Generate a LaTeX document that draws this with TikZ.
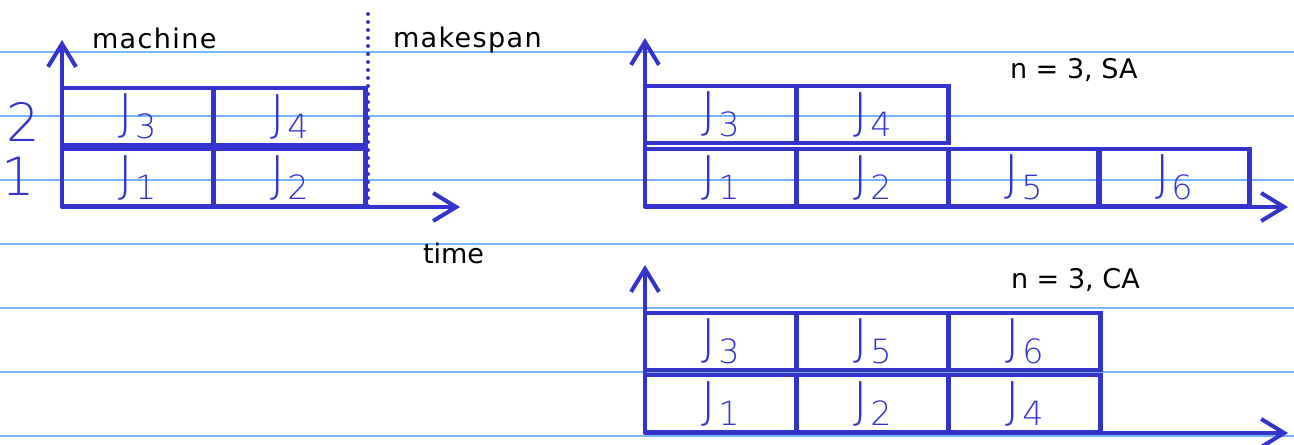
\documentclass[tikz,border=0pt]{standalone}
\usepackage{fontspec}
\setmainfont{DejaVu Sans}
\newfontfamily\handfont{DejaVu Sans ExtraLight}
\newfontfamily\widefont[LetterSpace=5]{DejaVu Sans}
\usetikzlibrary{arrows.meta}

\definecolor{ink}{RGB}{52,52,204}
\definecolor{ruling}{RGB}{120,180,255}

% handwritten job label: big J, small lowered index
\newcommand{\jlabel}[1]{{\fontsize{28}{28}\selectfont J}\kern1pt\raisebox{-5pt}{\fontsize{19}{19}\selectfont #1}}

\begin{document}
\begin{tikzpicture}[x=0.02cm, y=-0.02cm]
\tikzstyle{every node} = [inner sep=0pt, outer sep=0pt]
\tikzstyle{jobbox} = [draw=ink, line width=0.09cm, minimum width=3.03cm, minimum height=1.14cm, anchor=south west, text=ink, font=\handfont]
\tikzstyle{axis} = [draw=ink, line width=0.07cm, line cap=round, -{Straight Barb[length=0.46cm, width=0.56cm, line width=0.08cm]}]
\tikzstyle{rule} = [draw=ruling, line width=0.04cm]
\tikzstyle{label} = [anchor=base west, font=\fontsize{15.4}{18}\selectfont]
\tikzstyle{mnum} = [text=ink, font=\handfont\fontsize{30}{30}\selectfont]
\useasboundingbox (0,0) rectangle (1294,444);

% notebook ruling
\foreach \y in {52,116,...,436}
  \draw[rule] (0,\y) -- (1294,\y);

% schedule on two machines
\node[jobbox] (j1) at (62,206) {\jlabel{1}};
\node[jobbox] (j2) at (214,206) {\jlabel{2}};
\node[jobbox] (j3) at (62,145) {\jlabel{3}};
\node[jobbox] (j4) at (214,145) {\jlabel{4}};
\coordinate (o1) at (62,207);
\coordinate (y1) at (62,40);
\coordinate (x1) at (460,207);
\draw[axis] (o1) -- (y1);
\draw[axis] (o1) -- (x1);
\coordinate (ms top) at (368,14);
\coordinate (ms bot) at (368,206);
\draw[ink, line width=0.08cm, line cap=round, dash pattern=on 0pt off 0.16cm] (ms top) -- (ms bot);
\node[label, font=\widefont\fontsize{15.4}{18}\selectfont] (machine) at (92,48) {machine};
\node[label, font=\widefont\fontsize{15.4}{18}\selectfont] (makespan) at (393,47) {makespan};
\node[label] (time) at (423,263) {time};
\node[mnum] (m2) at (23,122) {2};
\node[mnum] (m1) at (18,176) {1};

% n = 3, SA
\node[jobbox] (sa1) at (645,206) {\jlabel{1}};
\node[jobbox] (sa2) at (797,206) {\jlabel{2}};
\node[jobbox] (sa5) at (948,206) {\jlabel{5}};
\node[jobbox] (sa6) at (1098,206) {\jlabel{6}};
\node[jobbox] (sa3) at (645,143) {\jlabel{3}};
\node[jobbox] (sa4) at (797,143) {\jlabel{4}};
\coordinate (o2) at (645,207);
\coordinate (y2) at (645,38);
\coordinate (x2) at (1288,207);
\draw[axis] (o2) -- (y2);
\draw[axis] (o2) -- (x2);
\node[label] (sa) at (1010,78) {n = 3, SA};

% n = 3, CA
\node[jobbox] (ca1) at (645,432) {\jlabel{1}};
\node[jobbox] (ca2) at (797,432) {\jlabel{2}};
\node[jobbox] (ca4) at (949,432) {\jlabel{4}};
\node[jobbox] (ca3) at (645,370) {\jlabel{3}};
\node[jobbox] (ca5) at (797,370) {\jlabel{5}};
\node[jobbox] (ca6) at (949,370) {\jlabel{6}};
\coordinate (o3) at (645,433);
\coordinate (y3) at (645,265);
\coordinate (x3) at (1288,433);
\draw[axis] (o3) -- (y3);
\draw[axis] (o3) -- (x3);
\node[label] (ca) at (1011,288) {n = 3, CA};
\end{tikzpicture}
\end{document}
